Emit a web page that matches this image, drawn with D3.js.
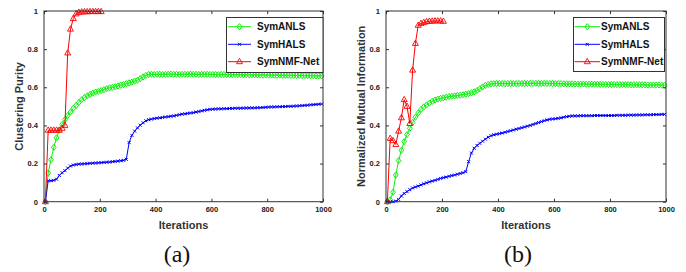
<!DOCTYPE html>
<html><head><meta charset="utf-8">
<script src="https://cdn.jsdelivr.net/npm/d3@7"></script>
<style>html,body{margin:0;padding:0;background:#fff;}svg{display:block;}</style>
</head><body>
<svg id="chart" width="686" height="272"></svg>
<script>
const iterations = [5,15,25,35,45,55,65,75,85,95,105,115,125,135,145,155,165,175,185,195,
205,215,225,235,245,255,265,275,285,295,305,315,325,335,345,355,365,375,385,395,
405,415,425,435,445,455,465,475,485,495,505,515,525,535,545,555,565,575,585,595,
605,615,625,635,645,655,665,675,685,695,705,715,725,735,745,755,765,775,785,795,
805,815,825,835,845,855,865,875,885,895,905,915,925,935,945,955,965,975,985,995];
const netIterations = [5,15,25,35,45,55,65,75,85,95,105,115,125,135,145,155,165,175,185,195,205];

const purityANLS = [0,0.15,0.22,0.285,0.335,0.375,0.405,0.43,0.452,0.47,
0.49,0.505,0.52,0.535,0.546,0.555,0.563,0.569,0.575,0.579,
0.583,0.588,0.593,0.597,0.600,0.603,0.607,0.611,0.615,0.619,
0.623,0.627,0.632,0.637,0.645,0.654,0.662,0.667,0.668,0.667,
0.668,0.668,0.667,0.668,0.668,0.669,0.668,0.668,0.667,0.668,
0.668,0.668,0.669,0.668,0.668,0.667,0.668,0.668,0.668,0.667,
0.667,0.667,0.666,0.667,0.667,0.667,0.666,0.667,0.667,0.666,
0.666,0.666,0.666,0.665,0.666,0.665,0.665,0.665,0.664,0.665,
0.664,0.664,0.664,0.663,0.664,0.663,0.663,0.663,0.662,0.662,
0.662,0.662,0.661,0.662,0.661,0.661,0.661,0.660,0.660,0.660];
const purityHALS = [0,0.11,0.11,0.112,0.118,0.138,0.152,0.163,0.176,0.187,
0.192,0.195,0.197,0.198,0.199,0.2,0.201,0.202,0.203,0.204,
0.205,0.206,0.207,0.208,0.21,0.211,0.213,0.215,0.217,0.222,
0.31,0.348,0.37,0.387,0.401,0.414,0.424,0.43,0.433,0.436,
0.438,0.44,0.442,0.444,0.446,0.448,0.45,0.453,0.456,0.459,
0.461,0.463,0.465,0.467,0.47,0.473,0.476,0.479,0.482,0.484,
0.485,0.486,0.487,0.487,0.488,0.488,0.489,0.489,0.49,0.49,
0.49,0.491,0.491,0.492,0.492,0.492,0.493,0.493,0.494,0.495,
0.496,0.497,0.497,0.498,0.498,0.499,0.499,0.5,0.5,0.501,
0.502,0.503,0.504,0.505,0.506,0.508,0.509,0.51,0.511,0.512];
const purityNet = [0,0.375,0.375,0.375,0.375,0.375,0.385,0.40,0.78,0.905,0.96,0.985,0.993,0.995,0.996,0.996,0.997,0.997,0.997,0.997,0.997];

const nmiANLS = [0,0.01,0.05,0.14,0.215,0.27,0.315,0.352,0.385,0.415,
0.443,0.465,0.484,0.497,0.508,0.517,0.526,0.533,0.538,0.542,
0.545,0.548,0.551,0.553,0.555,0.557,0.559,0.561,0.564,0.567,
0.571,0.576,0.583,0.592,0.602,0.61,0.615,0.618,0.619,0.62,
0.62,0.62,0.619,0.62,0.62,0.62,0.619,0.62,0.62,0.62,
0.62,0.621,0.62,0.621,0.62,0.62,0.621,0.62,0.62,0.62,
0.619,0.619,0.619,0.618,0.618,0.618,0.618,0.617,0.617,0.617,
0.617,0.616,0.616,0.616,0.616,0.616,0.615,0.615,0.615,0.615,
0.615,0.615,0.614,0.614,0.614,0.614,0.614,0.613,0.613,0.613,
0.613,0.613,0.613,0.612,0.612,0.612,0.612,0.612,0.611,0.611];
const nmiHALS = [0,0,0,0.003,0.012,0.03,0.043,0.053,0.063,0.072,
0.077,0.082,0.088,0.094,0.099,0.104,0.108,0.112,0.117,0.122,
0.126,0.129,0.133,0.137,0.14,0.144,0.148,0.152,0.158,0.21,
0.255,0.28,0.295,0.306,0.317,0.328,0.338,0.346,0.351,0.354,
0.357,0.36,0.364,0.368,0.372,0.376,0.38,0.384,0.388,0.392,
0.396,0.4,0.405,0.41,0.415,0.42,0.425,0.429,0.432,0.434,
0.435,0.437,0.44,0.443,0.446,0.448,0.45,0.45,0.45,0.451,
0.451,0.451,0.451,0.451,0.452,0.452,0.452,0.452,0.452,0.452,
0.452,0.452,0.453,0.453,0.453,0.453,0.454,0.454,0.454,0.455,
0.455,0.455,0.456,0.456,0.456,0.457,0.457,0.457,0.458,0.458];
const nmiNet = [0,0.332,0.32,0.30,0.37,0.44,0.535,0.50,0.41,0.69,0.83,0.925,0.935,0.94,0.944,0.946,0.947,0.948,0.948,0.948,0.946];

const xTicks = [0,200,400,600,800,1000];
const yTicks = [0,0.2,0.4,0.6,0.8,1];
const yTickLabels = ["0","0.2","0.4","0.6","0.8","1"];
const seriesNames = ["SymANLS","SymHALS","SymNMF-Net"];
const yTitles = ["Clustering Purity","Normalized Mutual Information"];
const captions = ["(a)","(b)"];
const xTitle = "Iterations";

const colors = ["#10f010","#0000ff","#ff0000"];
const svg = d3.select("#chart");
const sans = "'Liberation Sans', Arial, sans-serif";

const panels = [
  {x0:44, x1:323, y0:201.7, y1:11, data:[purityANLS,purityHALS,purityNet], yTitle:yTitles[0], yTitleX:19, cap:captions[0], capX:177,
   legend:{x:226.5, y:17.5, w:96.5, h:55, lx0:228, lx1:251, tx:257}},
  {x0:386, x1:666, y0:201.7, y1:11, data:[nmiANLS,nmiHALS,nmiNet], yTitle:yTitles[1], yTitleX:361, cap:captions[1], capX:518,
   legend:{x:573.5, y:17.5, w:91, h:54, lx0:574.5, lx1:600, tx:601}}
];

function marker(g, type, cx, cy, color) {
  if (type === 0) {
    g.append("path").attr("d", `M${cx},${cy-3.1}L${cx+2.4},${cy}L${cx},${cy+3.1}L${cx-2.4},${cy}Z`)
      .attr("fill","none").attr("stroke",color).attr("stroke-width",1);
  } else if (type === 1) {
    g.append("path").attr("d", `M${cx-1.5},${cy-1.5}L${cx+1.5},${cy+1.5}M${cx-1.5},${cy+1.5}L${cx+1.5},${cy-1.5}`)
      .attr("fill","none").attr("stroke",color).attr("stroke-width",1);
  } else {
    g.append("path").attr("d", `M${cx},${cy-3.3}L${cx+3},${cy+2}L${cx-3},${cy+2}Z`)
      .attr("fill","none").attr("stroke",color).attr("stroke-width",0.9);
  }
}

panels.forEach(p => {
  const x = d3.scaleLinear().domain([0,1000]).range([p.x0,p.x1]);
  const y = d3.scaleLinear().domain([0,1]).range([p.y0,p.y1]);
  const g = svg.append("g");

  p.data.forEach((vals, si) => {
    const xs = si === 2 ? netIterations : iterations;
    const pts = vals.map((v,i) => [x(xs[i]), y(v)]);
    g.append("path").attr("d", d3.line()(pts)).attr("fill","none")
      .attr("stroke", colors[si]).attr("stroke-width", 1);
    const mg = g.append("g");
    pts.forEach(pt => marker(mg, si, pt[0], pt[1], colors[si]));
  });

  g.append("rect").attr("x",p.x0).attr("y",p.y1).attr("width",p.x1-p.x0).attr("height",p.y0-p.y1)
    .attr("fill","none").attr("stroke","#333").attr("stroke-width",1);

  const axB = d3.axisBottom(x).tickValues(xTicks).tickSize(-3).tickPadding(5).tickFormat(d3.format("d"));
  const axT = d3.axisTop(x).tickValues(xTicks).tickSize(-3).tickFormat("");
  const axL = d3.axisLeft(y).tickValues(yTicks).tickSize(-3).tickPadding(6).tickFormat((d,i)=>yTickLabels[i]);
  const axR = d3.axisRight(y).tickValues(yTicks).tickSize(-3).tickFormat("");
  [[axB,`translate(0,${p.y0})`],[axT,`translate(0,${p.y1})`],[axL,`translate(${p.x0},0)`],[axR,`translate(${p.x1},0)`]].forEach(([ax,tr]) => {
    const a = g.append("g").attr("transform",tr).call(ax);
    a.select(".domain").remove();
    a.selectAll(".tick line").attr("stroke","#333");
    a.selectAll(".tick text").attr("font-family",sans).attr("font-weight","bold").attr("font-size",7.5).attr("fill","#222");
  });

  g.append("text").attr("x",(p.x0+p.x1)/2).attr("y",229).attr("text-anchor","middle")
    .attr("font-family",sans).attr("font-weight","bold").attr("font-size",11).attr("fill","#333").text(xTitle);
  g.append("text").attr("transform",`translate(${p.yTitleX+4},${(p.y0+p.y1)/2}) rotate(-90)`).attr("text-anchor","middle")
    .attr("font-family",sans).attr("font-weight","bold").attr("font-size",11).attr("fill","#333").text(p.yTitle);
  g.append("text").attr("x",p.capX).attr("y",262).attr("text-anchor","middle")
    .attr("font-family","'Liberation Serif','Times New Roman',serif").attr("font-size",24).attr("fill","#111").text(p.cap);

  const L = p.legend;
  const lg = g.append("g");
  lg.append("rect").attr("x",L.x).attr("y",L.y).attr("width",L.w).attr("height",L.h)
    .attr("fill","#fff").attr("stroke","#333").attr("stroke-width",1);
  const rows = [26.7, 44.3, 61.7];
  seriesNames.forEach((name, si) => {
    lg.append("line").attr("x1",L.lx0).attr("x2",L.lx1).attr("y1",rows[si]).attr("y2",rows[si])
      .attr("stroke",colors[si]).attr("stroke-width",1);
    marker(lg, si, (L.lx0+L.lx1)/2, rows[si], colors[si]);
    lg.append("text").attr("x",L.tx).attr("y",rows[si]).attr("dy","0.35em")
      .attr("font-family",sans).attr("font-weight","bold").attr("font-size",10).attr("fill","#111").text(name);
  });
});
</script>
</body></html>
